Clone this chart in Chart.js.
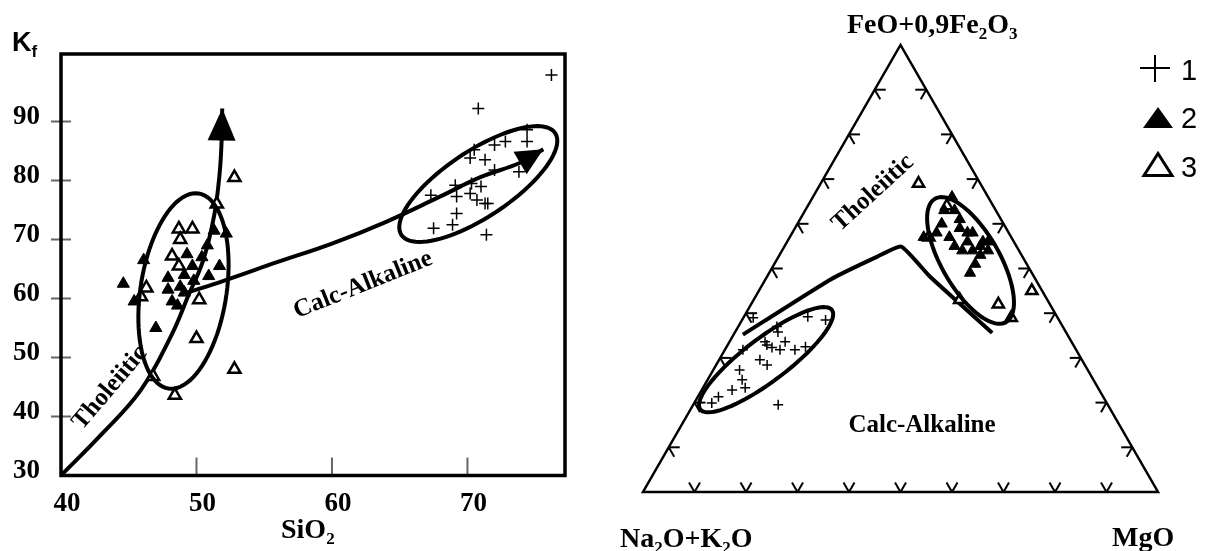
<!DOCTYPE html>
<html>
<head>
<meta charset="utf-8">
<script src="https://cdn.jsdelivr.net/npm/chart.js@4.4.1/dist/chart.umd.min.js"></script>
<style>
  html, body { margin: 0; padding: 0; background: #fff; }
  #wrap { position: relative; width: 1206px; height: 551px; }
  .box { position: absolute; top: 0; height: 551px; }
</style>
</head>
<body>
<div id="wrap">
  <div class="box" style="left:0;width:600px"><canvas id="left"></canvas></div>
  <div class="box" style="left:600px;width:606px"><canvas id="right"></canvas></div>
</div>
<script>
// ---- left diagram: SiO2 vs Kf ----
const xTicks = [40, 50, 60, 70];
const yTicks = [30, 40, 50, 60, 70, 80, 90];

// 1 = crosses
const siCross = [76.2, 70.8, 74.4, 74.4, 72.8, 72.0, 70.5, 70.2, 71.3, 72.0, 73.8, 69.1, 70.3, 71.0, 67.3, 70.2, 69.2, 70.7, 71.3, 71.5, 69.2, 67.5, 68.9, 71.4];
const kfCross = [97.9, 92.2, 88.6, 86.6, 86.6, 86.0, 85.2, 83.8, 83.5, 81.8, 81.5, 79.2, 79.5, 79.0, 77.5, 77.8, 77.3, 76.7, 76.1, 76.1, 74.4, 71.9, 72.5, 70.8];
// 2 = filled triangles
const siFilled = [44.6, 46.1, 45.4, 47.0, 47.9, 47.9, 48.6, 49.1, 49.1, 49.7, 50.4, 50.8, 51.3, 51.7, 50.9, 49.8, 49.3, 48.8, 48.2, 52.2];
const kfFilled = [62.5, 66.5, 59.5, 55.0, 63.5, 61.5, 58.8, 61.0, 64.0, 65.5, 67.0, 69.0, 71.5, 65.5, 63.8, 63.0, 67.5, 62.0, 59.5, 71.0];
// 3 = open triangles
const siOpen = [52.8, 51.5, 48.7, 49.7, 48.8, 48.2, 48.7, 46.3, 45.9, 50.2, 50.0, 52.8, 46.8, 48.4];
const kfOpen = [80.5, 76.0, 71.8, 71.8, 70.0, 67.2, 65.5, 61.8, 60.3, 59.8, 53.2, 48.0, 46.8, 43.6];

// trend arrows (last point = arrow tip)
const tholSi = [40, 43, 45.9, 48.2, 49.4, 50.5, 51.3, 51.7, 51.85, 51.9];
const tholKf = [30, 37, 44.5, 54, 60.5, 66.5, 74, 81, 86.5, 92.2];
const calcSi = [49.3, 52, 56, 60, 64, 68, 71, 73.9, 75.6];
const calcKf = [61, 63, 66.2, 69.3, 73, 77.3, 80.6, 83.0, 85.3];

// field outlines (centre + two conjugate half-axes, data units)
const leftFields = [
  { c: [49.04, 61.27], u: [1.11, 16.53], v: [3.14, -1.1] },
  { c: [70.8, 79.4], u: [5.67, 8.64], v: [1.36, -4.66] }
];

// ---- right diagram: ternary [Na2O+K2O, FeO+0.9Fe2O3, MgO] ----
const ternCross = [[59.1, 39.0, 1.9], [55.5, 37.0, 7.5], [55.9, 35.8, 8.3], [48.4, 39.2, 12.4], [45.3, 38.5, 16.2],
  [64.7, 31.8, 3.5], [59.5, 33.6, 6.9], [59.5, 32.9, 7.6], [58.8, 32.3, 8.9], [55.6, 33.6, 10.8], [57.5, 31.8, 10.7],
  [54.6, 31.8, 13.6], [52.2, 32.5, 15.3], [62.5, 29.6, 7.9], [61.7, 28.4, 9.9], [67.6, 27.3, 5.1], [68.2, 25.1, 6.7],
  [68.5, 23.3, 8.2], [71.3, 22.8, 5.9], [74.7, 21.3, 4.0], [76.7, 19.9, 3.4], [64.0, 19.5, 16.5]];
const ternFilled = [[7, 66, 27], [8, 63, 29], [12, 60, 28], [17, 57, 26], [9, 59, 32], [8, 58, 34], [7, 58, 35], [12, 57, 31],
  [12, 55, 33], [9, 56, 35], [7, 55, 38], [6, 56, 38], [5, 56, 39], [11, 54, 35], [9, 54, 37], [8, 53, 39], [6, 54, 40],
  [10, 51, 39], [12, 49, 39], [14, 58, 28], [10, 63, 27], [8, 61, 31]];
const ternOpen = [[12, 69, 19], [2, 45, 53], [10, 42, 48], [9, 39, 52], [17, 43, 40], [9, 64, 27], [16, 57, 27]];
const ternBoundary = [[63.0, 35.2, 1.8], [39.9, 47.5, 12.6], [28.3, 52.6, 19.1], [22.4, 54.9, 22.7], [20.2, 48.2, 31.6], [14.4, 35.6, 50.0]];
const ternFields = [
  { c: [61.3, 29.6, 9.1], a: 16.0, b: 4.2, deg: 37 },
  { c: [10.5, 51.8, 37.7], a: 13.8, b: 5.6, deg: -60 }
];
const ternSteps = [10, 20, 30, 40, 50, 60, 70, 80, 90];

const SERIF = '"Liberation Serif", "Times New Roman", serif';
const SANS = '"Liberation Sans", Arial, sans-serif';
const SQ = Math.sqrt(3) / 2;

function pts(xs, ys) { return xs.map((x, i) => ({ x: x, y: ys[i] })); }
function tern(p) {
  const s = p[0] + p[1] + p[2];
  const f = p[1] / s, m = p[2] / s;
  return { x: 100 * (m + f / 2), y: 100 * f * SQ };
}

// text with subscripts: odd entries are subscripts
function richText(ctx, x, y, parts, size, family, align) {
  const sub = Math.round(size * 0.62);
  let w = 0;
  parts.forEach((t, i) => {
    ctx.font = 'bold ' + (i % 2 ? sub : size) + 'px ' + family;
    w += ctx.measureText(t).width;
  });
  let cx = align === 'center' ? x - w / 2 : x;
  ctx.textAlign = 'left';
  ctx.textBaseline = 'alphabetic';
  parts.forEach((t, i) => {
    ctx.font = 'bold ' + (i % 2 ? sub : size) + 'px ' + family;
    ctx.fillText(t, cx, i % 2 ? y + size * 0.22 : y);
    cx += ctx.measureText(t).width;
  });
}

function rotText(ctx, text, x, y, deg, size) {
  ctx.save();
  ctx.translate(x, y);
  ctx.rotate(deg * Math.PI / 180);
  ctx.font = 'bold ' + size + 'px ' + SERIF;
  ctx.textAlign = 'center';
  ctx.textBaseline = 'middle';
  ctx.fillText(text, 0, 0);
  ctx.restore();
}

function outline(chart, c, u, v) {
  const sx = chart.scales.x, sy = chart.scales.y, ctx = chart.ctx;
  ctx.beginPath();
  for (let k = 0; k <= 90; k++) {
    const t = k / 90 * Math.PI * 2;
    const px = sx.getPixelForValue(c[0] + Math.cos(t) * u[0] + Math.sin(t) * v[0]);
    const py = sy.getPixelForValue(c[1] + Math.cos(t) * u[1] + Math.sin(t) * v[1]);
    if (k) ctx.lineTo(px, py); else ctx.moveTo(px, py);
  }
  ctx.closePath();
  ctx.lineWidth = 4;
  ctx.strokeStyle = '#000';
  ctx.stroke();
}

function arrowHeads(chart) {
  const ctx = chart.ctx;
  chart.data.datasets.forEach((ds, i) => {
    if (!ds.arrow) return;
    const p = chart.getDatasetMeta(i).data;
    const tip = p[p.length - 1], prev = p[p.length - 2];
    const dx = tip.x - prev.x, dy = tip.y - prev.y, d = Math.hypot(dx, dy);
    const ux = dx / d, uy = dy / d;
    const bx = tip.x - ux * ds.arrow.len, by = tip.y - uy * ds.arrow.len;
    ctx.beginPath();
    ctx.moveTo(tip.x, tip.y);
    ctx.lineTo(bx - uy * ds.arrow.half, by + ux * ds.arrow.half);
    ctx.lineTo(bx + uy * ds.arrow.half, by - ux * ds.arrow.half);
    ctx.closePath();
    ctx.fillStyle = '#000';
    ctx.fill();
  });
}

const leftDecor = {
  id: 'leftDecor',
  afterDatasetsDraw(chart) {
    const ctx = chart.ctx, a = chart.chartArea;
    const sx = chart.scales.x, sy = chart.scales.y;
    ctx.save();
    ctx.strokeStyle = '#666';
    ctx.lineWidth = 2;
    yTicks.slice(1).forEach(v => {
      const y = sy.getPixelForValue(v);
      ctx.beginPath(); ctx.moveTo(a.left - 10, y); ctx.lineTo(a.left + 10, y); ctx.stroke();
    });
    xTicks.slice(1).forEach(v => {
      const x = sx.getPixelForValue(v);
      ctx.beginPath(); ctx.moveTo(x, a.bottom); ctx.lineTo(x, a.bottom - 18); ctx.stroke();
    });
    ctx.strokeStyle = '#000';
    ctx.lineWidth = 3.5;
    ctx.strokeRect(a.left, a.top, a.right - a.left, a.bottom - a.top);
    leftFields.forEach(e => outline(chart, e.c, e.u, e.v));
    arrowHeads(chart);
    ctx.fillStyle = '#000';
    richText(ctx, 12, 51, ['K', 'f'], 27, SANS, 'left');
    richText(ctx, 281, 538, ['SiO', '2'], 28, SERIF, 'left');
    rotText(ctx, 'Tholeiitic', 110, 388, -49.6, 25);
    rotText(ctx, 'Calc-Alkaline', 363, 285, -21.8, 25);
    ctx.restore();
  }
};

const rightDecor = {
  id: 'rightDecor',
  beforeDatasetsDraw(chart) {
    const ctx = chart.ctx, sx = chart.scales.x, sy = chart.scales.y;
    const P = (x, y) => [sx.getPixelForValue(x), sy.getPixelForValue(y)];
    ctx.save();
    ctx.strokeStyle = '#000';
    ctx.lineWidth = 2.5;
    const A = P(0, 0), M = P(100, 0), F = P(50, 100 * SQ);
    ctx.beginPath();
    ctx.moveTo(A[0], A[1]); ctx.lineTo(M[0], M[1]); ctx.lineTo(F[0], F[1]); ctx.closePath();
    ctx.stroke();
    // chevron ticks along the three sides
    const L = 11;
    ctx.lineWidth = 2;
    const stub = (p, dirs) => dirs.forEach(d => {
      ctx.beginPath(); ctx.moveTo(p[0], p[1]); ctx.lineTo(p[0] + d[0] * L, p[1] - d[1] * L); ctx.stroke();
    });
    ternSteps.forEach(s => {
      stub(P(s, 0), [[-0.5, SQ], [0.5, SQ]]);
      stub(P(s / 2, s * SQ), [[1, 0], [0.5, -SQ]]);
      stub(P(100 - s / 2, s * SQ), [[-1, 0], [-0.5, -SQ]]);
    });
    ctx.restore();
  },
  afterDatasetsDraw(chart) {
    const ctx = chart.ctx;
    ctx.save();
    ternFields.forEach(e => {
      const c = tern(e.c), r = e.deg * Math.PI / 180;
      outline(chart, [c.x, c.y], [e.a * Math.cos(r), e.a * Math.sin(r)], [-e.b * Math.sin(r), e.b * Math.cos(r)]);
    });
    ctx.fillStyle = '#000';
    richText(ctx, 247, 33, ['FeO+0,9Fe', '2', 'O', '3'], 28, SERIF, 'left');
    richText(ctx, 20, 547, ['Na', '2', 'O+K', '2', 'O'], 28, SERIF, 'left');
    richText(ctx, 512, 546, ['MgO'], 28, SERIF, 'left');
    rotText(ctx, 'Tholeiitic', 273, 193, -42.5, 25);
    ctx.font = 'bold 25px ' + SERIF;
    ctx.textAlign = 'center';
    ctx.textBaseline = 'alphabetic';
    ctx.fillText('Calc-Alkaline', 322, 432);
    // legend
    ctx.strokeStyle = '#000';
    ctx.lineWidth = 2;
    ctx.beginPath();
    ctx.moveTo(540, 68); ctx.lineTo(570, 68); ctx.moveTo(555, 55); ctx.lineTo(555, 82);
    ctx.stroke();
    ctx.beginPath();
    ctx.moveTo(558, 107); ctx.lineTo(543, 128); ctx.lineTo(573, 128); ctx.closePath();
    ctx.fill();
    ctx.lineWidth = 3;
    ctx.beginPath();
    ctx.moveTo(558, 153.5); ctx.lineTo(544, 175.5); ctx.lineTo(572, 175.5); ctx.closePath();
    ctx.stroke();
    ctx.font = '29px ' + SANS;
    ctx.textAlign = 'left';
    ctx.fillText('1', 581, 80);
    ctx.fillText('2', 581, 128);
    ctx.fillText('3', 581, 177);
    ctx.restore();
  }
};

const common = {
  responsive: true,
  maintainAspectRatio: false,
  animation: false,
  devicePixelRatio: 1,
  events: [],
  plugins: { legend: { display: false }, tooltip: { enabled: false } }
};
const tickFont = { family: SERIF, size: 27, weight: 'bold' };

new Chart(document.getElementById('left'), {
  type: 'scatter',
  data: {
    datasets: [
      { label: '1', data: pts(siCross, kfCross), pointStyle: 'cross', pointRadius: 6, borderColor: '#000', borderWidth: 1.5 },
      { label: '2', data: pts(siFilled, kfFilled), pointStyle: 'triangle', pointRadius: 7, backgroundColor: '#000', borderColor: '#000', borderWidth: 1 },
      { label: '3', data: pts(siOpen, kfOpen), pointStyle: 'triangle', pointRadius: 7, backgroundColor: '#fff', borderColor: '#000', borderWidth: 2.5 },
      { label: 'Tholeiitic', data: pts(tholSi, tholKf), showLine: true, pointRadius: 0, borderColor: '#000', borderWidth: 4, tension: 0.4, arrow: { len: 32, half: 14 } },
      { label: 'Calc-Alkaline', data: pts(calcSi, calcKf), showLine: true, pointRadius: 0, borderColor: '#000', borderWidth: 4, tension: 0.4, arrow: { len: 27, half: 13 } }
    ]
  },
  options: Object.assign({}, common, {
    layout: { padding: { top: 54, right: 35, left: 0, bottom: 0 } },
    scales: {
      x: {
        type: 'linear', min: 40, max: 77.2,
        afterFit(s) { s.height = 75.5; },
        afterBuildTicks(s) { s.ticks = xTicks.map(v => ({ value: v })); },
        grid: { display: false }, border: { display: false },
        ticks: { color: '#000', font: tickFont, padding: 4, labelOffset: 6, maxRotation: 0, autoSkip: false }
      },
      y: {
        type: 'linear', min: 30, max: 101.44,
        afterFit(s) { s.width = 61; },
        afterBuildTicks(s) { s.ticks = yTicks.map(v => ({ value: v })); },
        grid: { display: false }, border: { display: false },
        ticks: { color: '#000', font: tickFont, padding: 13, labelOffset: -4, autoSkip: false }
      }
    }
  }),
  plugins: [leftDecor]
});

new Chart(document.getElementById('right'), {
  type: 'scatter',
  data: {
    datasets: [
      { label: '1', data: ternCross.map(tern), pointStyle: 'cross', pointRadius: 5, borderColor: '#000', borderWidth: 1.5 },
      { label: '2', data: ternFilled.map(tern), pointStyle: 'triangle', pointRadius: 6.5, backgroundColor: '#000', borderColor: '#000', borderWidth: 1 },
      { label: '3', data: ternOpen.map(tern), pointStyle: 'triangle', pointRadius: 6.5, backgroundColor: '#fff', borderColor: '#000', borderWidth: 2.5 },
      { label: 'boundary', data: ternBoundary.map(tern), showLine: true, pointRadius: 0, borderColor: '#000', borderWidth: 4, tension: 0.15 }
    ]
  },
  options: Object.assign({}, common, {
    layout: { padding: { left: 43, right: 48, top: 45, bottom: 59 } },
    scales: {
      x: { type: 'linear', min: 0, max: 100, display: false },
      y: { type: 'linear', min: 0, max: 100 * SQ, display: false }
    }
  }),
  plugins: [rightDecor]
});
</script>
</body>
</html>
